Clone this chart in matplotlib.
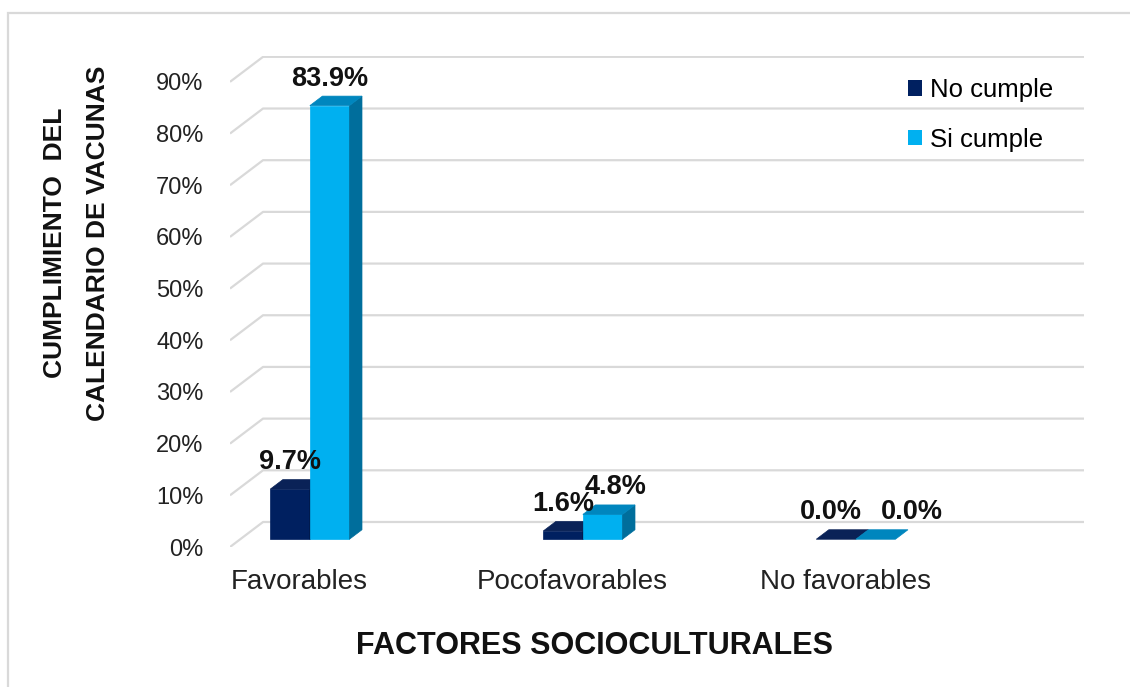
import numpy as np
import matplotlib.pyplot as plt
from matplotlib.patches import Polygon, Patch, Rectangle

categorias = ["Favorables", "Pocofavorables", "No favorables"]
series = ["No cumple", "Si cumple"]
no_cumple = [9.7, 1.6, 0.0]
si_cumple = [83.9, 4.8, 0.0]
ticks = np.arange(0, 100, 10)

# colores por serie: frente, tapa, lado
caras = [("#002060", "#0A2257", "#001642"),
         ("#00B0F0", "#0086BE", "#006E9C")]

# corrimiento horizontal de algunas etiquetas (px) para que no se pisen
corrimiento = {(1, 1): 13, (2, 0): -5, (2, 1): 36}

plt.rcParams['font.family'] = ['Liberation Sans', 'DejaVu Sans']

fig = plt.figure(figsize=(11.3, 6.87), dpi=100)
ax = fig.add_axes([230/1130, 140/687, 854/1130, 491/687])
x0 = -0.255
ax.set_xlim(x0, x0 + 854/273)
ax.set_ylim(0, 95)
ax.patch.set_visible(False)
for s in ax.spines.values():
    s.set_visible(False)

dx, dy = 0.121, 4.84     # profundidad del piso
ancho = 0.145             # ancho de cada barra
f0, f1 = 0.31, 0.69       # las barras van al centro del piso

# cuadricula: pared izquierda + pared del fondo
xfin = ax.get_xlim()[1]
for t in ticks:
    ax.plot([x0, x0 + dx, xfin], [t, t + dy, t + dy], color="#d9d9d9",
            lw=1.6, zorder=1, solid_capstyle='butt')

def barra(xl, v, col):
    frente, tapa, lado = col
    a, b = xl + f0*dx, xl + ancho + f0*dx
    ya, yb = f0*dy, f1*dy
    p = (f1 - f0)*dx
    if v > 0:
        ax.add_patch(Polygon([(a, ya), (b, ya), (b, ya + v), (a, ya + v)],
                             fc=frente, ec=frente, lw=0.5, zorder=3))
        ax.add_patch(Polygon([(b, ya), (b + p, yb), (b + p, yb + v), (b, ya + v)],
                             fc=lado, ec=lado, lw=0.5, zorder=3))
    ax.add_patch(Polygon([(a, ya + v), (b, ya + v), (b + p, yb + v), (a + p, yb + v)],
                         fc=tapa, ec=tapa, lw=0.5, zorder=3))

for i in range(len(categorias)):
    for j, vals in enumerate([no_cumple, si_cumple]):
        xl = i - ancho + j*ancho
        v = vals[i]
        barra(xl, v, caras[j])
        ax.annotate(f"{v:.1f}%", xy=(xl + ancho/2 + f0*dx, v + f0*dy),
                    xytext=(corrimiento.get((i, j), 0), 20), textcoords='offset pixels',
                    ha='center', va='baseline', fontsize=19.5, fontweight='bold',
                    color="#111111", zorder=5)

ax.set_yticks(ticks, [f"{t}%" for t in ticks])
ax.set_xticks(range(len(categorias)), categorias)
ax.tick_params(axis='y', length=0, pad=19, labelsize=17, labelcolor="#222222")
ax.tick_params(axis='x', length=0, pad=16, labelsize=20, labelcolor="#222222")

handles = [Patch(fc=caras[0][0], ec='none'), Patch(fc=caras[1][0], ec='none')]
fig.legend(handles, series, loc='upper left', bbox_to_anchor=(908/1130, 1 - 78/687),
           frameon=False, fontsize=18.5, handlelength=0.55, handleheight=0.55,
           handletextpad=0.3, labelspacing=1.0, borderaxespad=0, borderpad=0)

fig.text(595/1130, 1 - 646/687, "FACTORES SOCIOCULTURALES", ha='center', va='center',
         fontsize=22, fontweight='bold', color="#111111")
fig.text(77/1130, 1 - 243/687, "CUMPLIMIENTO  DEL\nCALENDARIO DE VACUNAS", rotation=90,
         ha='center', va='center', multialignment='center', fontsize=19,
         fontweight='bold', linespacing=2.0, color="#111111")

# marco exterior
fig.add_artist(Rectangle((8/1130, -0.1), 1.2, 1.1 - 13/687, transform=fig.transFigure,
                         fill=False, ec="#d9d9d9", lw=1.6))

fig.savefig("out.png", dpi=100)
